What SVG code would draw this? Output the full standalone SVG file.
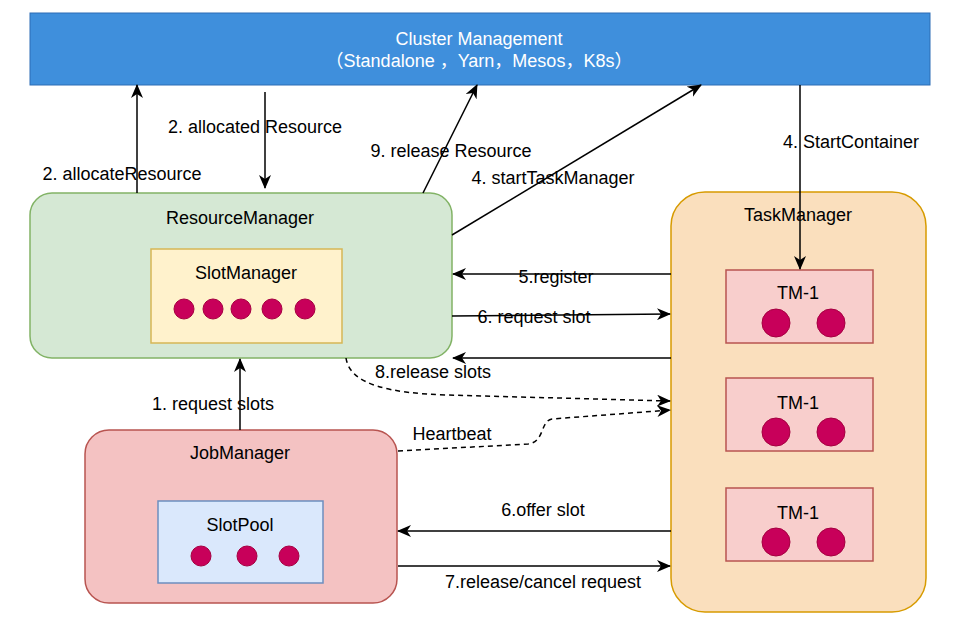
<svg xmlns="http://www.w3.org/2000/svg" width="958" height="626" viewBox="0 0 958 626">
<style>
text{font-family:"Liberation Sans",Arial,"Noto Sans CJK SC",sans-serif;font-size:18px;fill:#000;text-anchor:middle}
.w{fill:#fff}
.c{stroke:#000;stroke-width:1.5;fill:none;marker-end:url(#ah)}
.d{stroke-dasharray:5,4}
.dot{fill:#c8005a;stroke:#a50040;stroke-width:1}
.tm{fill:#f8cecc;stroke:#b85450;stroke-width:1.5}
</style>
<defs>
<marker id="ah" markerUnits="userSpaceOnUse" markerWidth="14" markerHeight="12" viewBox="0 0 14 12" refX="13" refY="6" orient="auto">
<path d="M0,0 L14,6 L0,12 L4,6 z" fill="#000"/>
</marker>
</defs>
<rect width="958" height="626" fill="#fff"/>

<g id="cluster">
<rect x="30" y="13" width="900" height="72" fill="#3f8fdc" stroke="#2d6db5" stroke-width="1"/>
<text class="w" x="479" y="45">Cluster Management</text>
<text class="w" x="479" y="67">（Standalone ，Yarn，Mesos，K8s）</text>
</g>

<g id="resourcemanager">
<rect x="30" y="193" width="422" height="165" rx="22" fill="#d5e8d4" stroke="#82b366" stroke-width="1.5"/>
<text x="240" y="224">ResourceManager</text>
</g>
<g id="slotmanager">
<rect x="151" y="249" width="191" height="94" fill="#fff2cc" stroke="#d6b656" stroke-width="1.5"/>
<text x="246" y="279">SlotManager</text>
<circle class="dot" cx="184" cy="309" r="10"/>
<circle class="dot" cx="213" cy="309" r="10"/>
<circle class="dot" cx="241" cy="309" r="10"/>
<circle class="dot" cx="272" cy="309" r="10"/>
<circle class="dot" cx="305" cy="309" r="10"/>
</g>

<g id="jobmanager">
<rect x="85" y="430" width="312" height="173" rx="24" fill="#f4c2c2" stroke="#b85450" stroke-width="1.5"/>
<text x="240" y="459">JobManager</text>
</g>
<g id="slotpool">
<rect x="158" y="501" width="165" height="82" fill="#dae8fc" stroke="#6c8ebf" stroke-width="1.5"/>
<text x="240" y="531">SlotPool</text>
<circle class="dot" cx="201" cy="556" r="10"/>
<circle class="dot" cx="247" cy="556" r="10"/>
<circle class="dot" cx="289" cy="556" r="10"/>
</g>

<g id="taskmanager">
<rect x="671" y="192" width="255" height="420" rx="34" fill="#fadfbd" stroke="#d79b00" stroke-width="1.5"/>
<text x="798" y="221">TaskManager</text>
</g>
<g id="tm1a">
<rect class="tm" x="726" y="270" width="147" height="73"/>
<text x="798" y="299">TM-1</text>
<circle class="dot" cx="776" cy="323" r="14"/>
<circle class="dot" cx="831" cy="323" r="14"/>
</g>
<g id="tm1b">
<rect class="tm" x="726" y="378" width="147" height="73"/>
<text x="798" y="409">TM-1</text>
<circle class="dot" cx="776" cy="432" r="14"/>
<circle class="dot" cx="831" cy="432" r="14"/>
</g>
<g id="tm1c">
<rect class="tm" x="726" y="488" width="147" height="73"/>
<text x="798" y="519">TM-1</text>
<circle class="dot" cx="776" cy="542" r="14"/>
<circle class="dot" cx="831" cy="542" r="14"/>
</g>

<g id="connectors">
<path class="c" d="M137,193 L137,85"/>
<path class="c" d="M265,92 L265,188"/>
<path class="c" d="M423,193 L477,85"/>
<path class="c" d="M452,235 L701,85"/>
<path class="c" d="M800,85 L800,269"/>
<path class="c" d="M671,274 L453,274"/>
<path class="c" d="M452,316 L670,314"/>
<path class="c" d="M671,358 L453,358"/>
<path class="c d" d="M346,358 C350,385 390,393 446,395 L670,401"/>
<path class="c d" d="M398,451 L528,444 C545,442 540,421 552,419 L670,410"/>
<path class="c" d="M240,430 L240,359"/>
<path class="c" d="M671,531 L398,531"/>
<path class="c" d="M398,566 L670,566"/>
<text x="122" y="180">2. allocateResource</text>
<text x="255" y="133">2. allocated Resource</text>
<text x="451" y="157">9. release Resource</text>
<text x="553" y="184">4. startTaskManager</text>
<text x="851" y="148">4. StartContainer</text>
<text x="556" y="283">5.register</text>
<text x="534" y="323">6. request slot</text>
<text x="433" y="378">8.release slots</text>
<text x="213" y="410">1. request slots</text>
<text x="452" y="440">Heartbeat</text>
<text x="543" y="516">6.offer slot</text>
<text x="543" y="588">7.release/cancel request</text>
</g>
</svg>
